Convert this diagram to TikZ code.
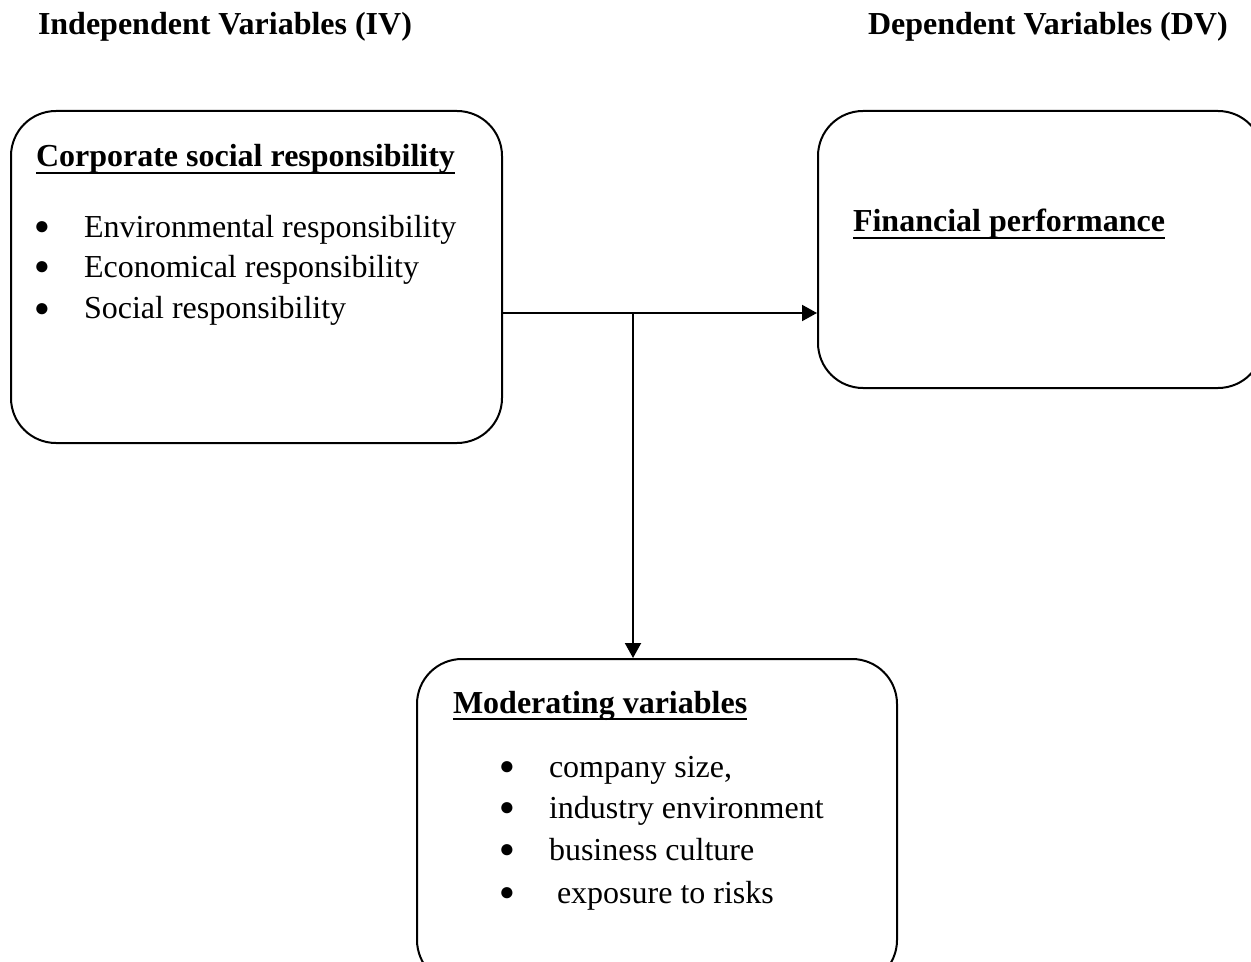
\documentclass[tikz,border=0pt]{standalone}
\usepackage{fontspec}
\setmainfont{Liberation Serif}
\usetikzlibrary{arrows.meta}
\newcommand\ulhead[1]{\textbf{\setbox0\hbox{#1}\rlap{\rule[-3.6pt]{\wd0}{1.2pt}}\box0}}
\begin{document}
\begin{tikzpicture}[x=.5pt,y=-.5pt,line width=1pt,>={Triangle[length=7.5pt,width=8pt]},
  font=\fontsize{16}{20}\selectfont,
  box/.style={draw,rounded corners=22.5pt,inner sep=0pt},
  txt/.style={anchor=base west,inner sep=0pt},
  dot/.style={anchor=base,inner sep=0pt,font=\fontsize{13}{14}\selectfont,yshift=1.5pt}]
  \useasboundingbox (0,0) rectangle (1251,962);
  % column titles
  \node[txt] (ivtitle) at (37,35) {\textbf{Independent Variables (IV)}};
  \node[txt] (dvtitle) at (867,35) {\textbf{Dependent Variables (DV)}};
  % the three boxes
  \node[box,minimum width=245.5pt,minimum height=166pt] (csrbox) at (256.5,277) {};
  \node[box,minimum width=222.5pt,minimum height=138.5pt] (fpbox) at (1040.5,249.5) {};
  \node[box,minimum width=240pt,minimum height=163pt] (modbox) at (657,822) {};
  % box contents
  \node[txt] (csrhead) at (35,167) {\ulhead{Corporate social responsibility}};
  \foreach \t/\y [count=\i] in {Environmental responsibility/238,
      Economical responsibility/278,Social responsibility/319}{
    \node[dot] (csrdot\i) at (42,\y) {●};
    \node[txt] (csritem\i) at (83,\y) {\t};
  }
  \node[txt] (fphead) at (852,232) {\ulhead{Financial performance}};
  \node[txt] (modhead) at (452,713) {\ulhead{Moderating variables}};
  \foreach \t/\y/\x [count=\i] in {{company size,}/777/548,
      industry environment/818/548,business culture/860/548,
      exposure to risks/903/556}{
    \node[dot] (moddot\i) at (507,\y) {●};
    \node[txt] (moditem\i) at (\x,\y) {\t};
  }
  % connectors
  \coordinate (fork) at (633,313);
  \draw[->] (csrbox.east |- fork) -- (fpbox.west |- fork);
  \draw[->] (fork) -- (modbox.north -| fork);
\end{tikzpicture}
\end{document}
